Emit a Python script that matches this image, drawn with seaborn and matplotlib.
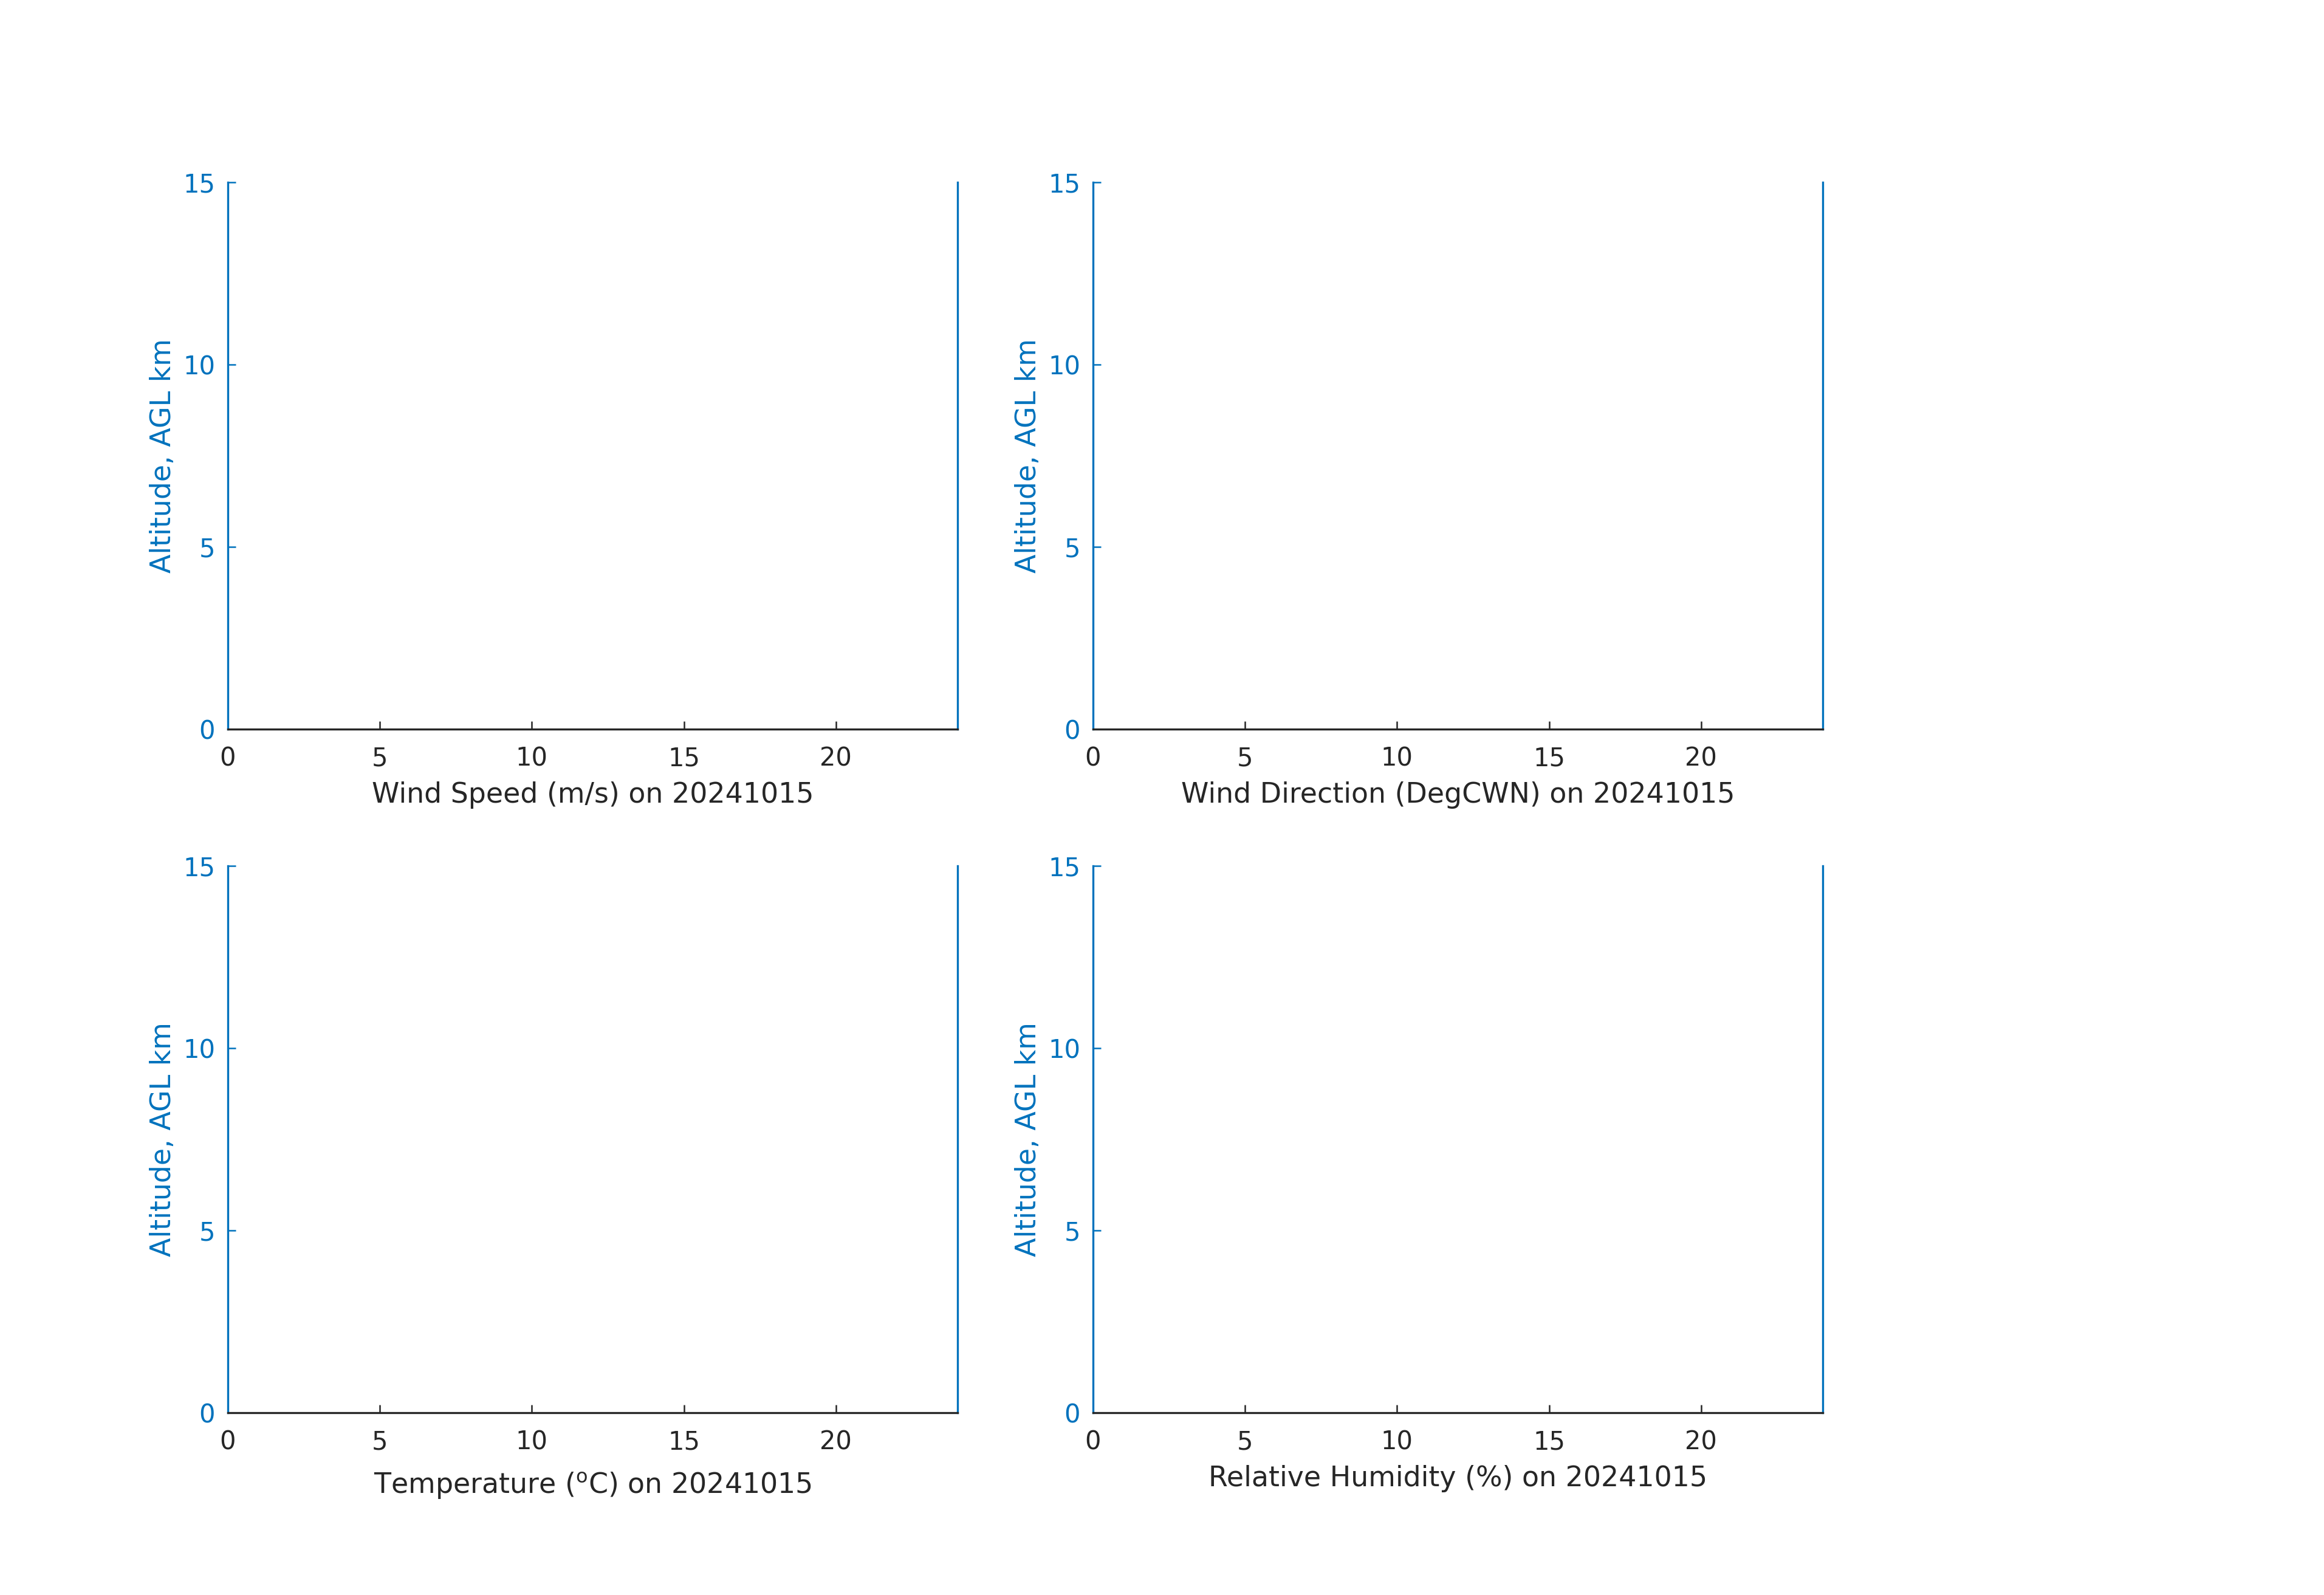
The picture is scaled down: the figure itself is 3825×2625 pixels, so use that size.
import matplotlib
matplotlib.use('Agg')
import matplotlib.pyplot as plt
import seaborn as sns

# Data: the profiles for this day are empty
hours = []
altitude = []
date_str = '20241015'
panel_labels = ['Wind Speed (m/s)', 'Wind Direction (DegCWN)',
                'Temperature ($^{\\mathrm{o}}$C)', 'Relative Humidity (%)']
x_ticks = [0, 5, 10, 15, 20]
y_ticks = [0, 5, 10, 15]
x_lim = [0, 24]
y_lim = [0, 15]

sns.set_style('white')
plt.rcParams['font.family'] = ['DejaVu Sans']

blue = '#0072BD'
dark = '#262626'

fig = plt.figure(figsize=(12.75, 8.75), dpi=300)
positions = [
    [0.098, 0.5429, 0.314, 0.3429],
    [0.4703, 0.5429, 0.314, 0.3429],
    [0.098, 0.1143, 0.314, 0.3429],
    [0.4703, 0.1143, 0.314, 0.3429],
]

for pos, label in zip(positions, panel_labels):
    ax = fig.add_axes(pos)
    sns.lineplot(x=hours, y=altitude, ax=ax, color=blue)
    ax.set_xlim(x_lim)
    ax.set_ylim(y_lim)
    ax.set_xticks(x_ticks)
    ax.set_yticks(y_ticks)
    pad = 6.2 if 'Temperature' in label else 3.8
    ax.set_xlabel(f'{label} on {date_str}', fontsize=11, color=dark, labelpad=pad)
    ax.set_ylabel('Altitude, AGL km', fontsize=11, color=blue, labelpad=2.5)
    ax.spines['top'].set_visible(False)
    ax.spines['left'].set_color(blue)
    ax.spines['right'].set_color(blue)
    ax.spines['bottom'].set_color(dark)
    for s in ax.spines.values():
        s.set_linewidth(0.8)
    ax.tick_params(axis='x', direction='in', length=3.2, width=0.6, colors=dark,
                   labelsize=10, pad=6.7, top=False, bottom=True)
    ax.tick_params(axis='y', direction='in', length=3.2, width=0.6, colors=blue,
                   labelsize=10, pad=5, left=True, right=False)

fig.savefig('out.png', dpi=300, facecolor='white')
